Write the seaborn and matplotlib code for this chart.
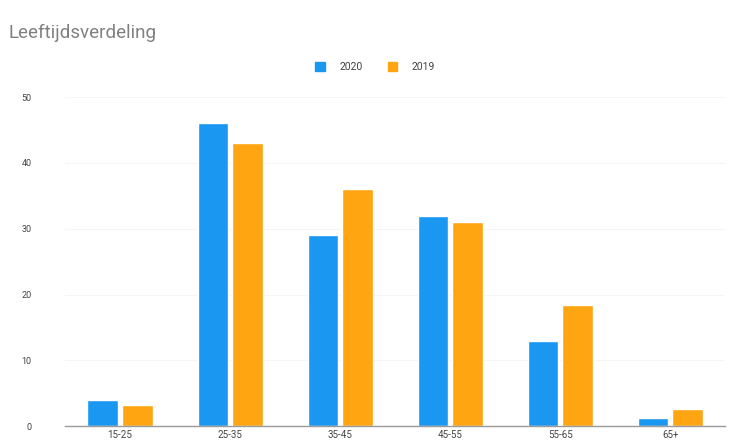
import matplotlib
matplotlib.use("Agg")
import matplotlib.pyplot as plt
import seaborn as sns
import pandas as pd
from matplotlib.patches import Patch

categories = ["15-25", "25-35", "35-45", "45-55", "55-65", "65+"]
values_2020 = [4, 46, 29, 32, 13, 1.3]
values_2019 = [3.2, 43, 36, 31, 18.4, 2.6]
series = ["2020", "2019"]
yticks = [0, 10, 20, 30, 40, 50]

df = pd.DataFrame({
    "cat": categories * 2,
    "val": values_2020 + values_2019,
    "series": [series[0]] * len(categories) + [series[1]] * len(categories),
})

sns.set_theme(style="white")
plt.rcParams['font.family'] = ['Roboto', 'DejaVu Sans']

fig = plt.figure(figsize=(7.31, 4.43), dpi=100)
ax = fig.add_axes([0.089, 0.038, 0.903, 0.743])

palette = {"2020": "#1A97F0", "2019": "#FFA512"}
sns.barplot(data=df, x="cat", y="val", hue="series", order=categories,
            hue_order=series, palette=palette, width=0.63, gap=0.12,
            saturation=1, ax=ax, legend=False)

ax.set_xlim(-0.5, 5.5)
ax.set_ylim(0, 50)
ax.set_yticks(yticks)
ax.set_yticklabels([str(t) for t in yticks], fontsize=6.5, color="#444444")
ax.tick_params(axis="y", length=0, pad=24)
ax.tick_params(axis="x", length=0, pad=3, labelsize=7, labelcolor="#444444")
ax.set_xlabel("")
ax.set_ylabel("")
for s in ["top", "right", "left"]:
    ax.spines[s].set_visible(False)
ax.spines["bottom"].set_color("#9a9a9a")
ax.spines["bottom"].set_linewidth(1.0)
ax.yaxis.grid(True, color="#f5f5f5", linewidth=0.8)
ax.set_axisbelow(True)

fig.text(0.012, 0.925, "Leeftijdsverdeling", fontsize=13.5, color="#808080",
         ha="left", va="center")

handles = [Patch(color=palette[s], label=s) for s in series]
fig.legend(handles=handles, loc="center", bbox_to_anchor=(0.513, 0.848),
           ncol=2, frameon=False, fontsize=7.5, handlelength=0.9,
           handleheight=0.9, columnspacing=2.4, handletextpad=1.4,
           labelcolor="#444444")

fig.savefig("out.png", dpi=100, facecolor="white")
